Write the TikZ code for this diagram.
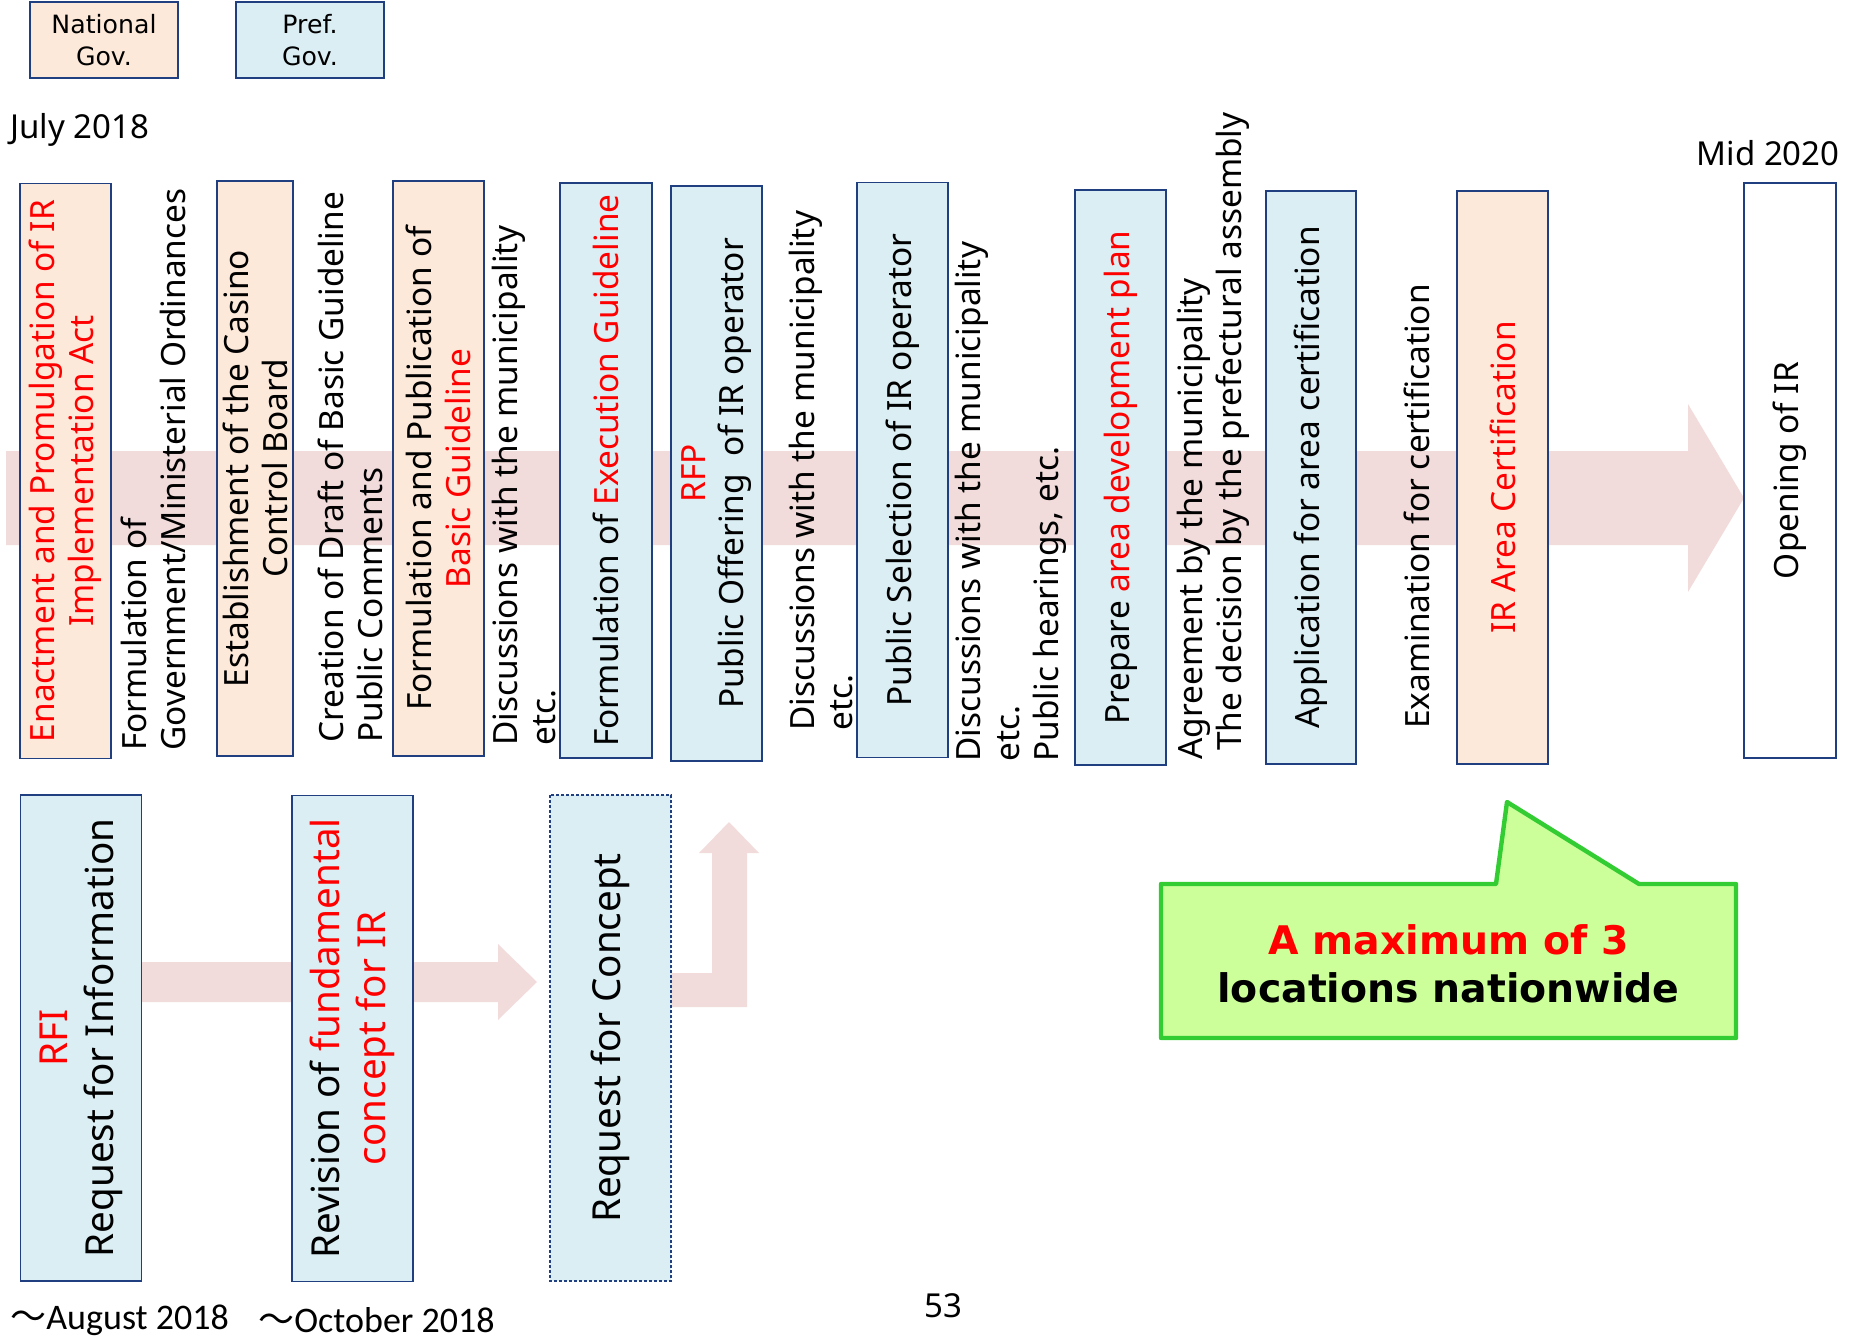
\documentclass[tikz,border=0pt]{standalone}
\usepackage{fontspec}
\setmainfont{Noto Sans}
\newfontfamily\nsans{Noto Sans}
\newfontfamily\carl{Carlito}
\newfontfamily\dvs{DejaVu Sans}
\newfontfamily\jpfont{Noto Sans CJK JP}
\definecolor{band}{HTML}{F2DCDB}
\definecolor{natfill}{HTML}{FDE9D9}
\definecolor{preffill}{HTML}{DAEEF3}
\definecolor{navy}{HTML}{203F80}
\definecolor{redtxt}{HTML}{FF0000}
\definecolor{callfill}{HTML}{CCFF99}
\definecolor{callline}{HTML}{33CC33}
\newcommand{\topfont}{\nsans\fontsize{16.7}{19.4}\selectfont}
\newcommand{\botfont}{\nsans\fontsize{19.3}{23}\selectfont}
\newcommand{\rd}[1]{\textcolor{redtxt}{#1}}
\begin{document}
\begin{tikzpicture}[x=0.5pt,y=0.5pt,
  vbox/.style={draw=navy, line width=0.9pt, rotate=90, inner sep=0pt, align=center, font=\topfont},
  natbox/.style={vbox, fill=natfill},
  prefbox/.style={vbox, fill=preffill},
  tall/.style={minimum width=287.5pt, minimum height=45.5pt},
  lowbox/.style={prefbox, font=\botfont, minimum width=243pt, minimum height=60.5pt},
  freetxt/.style={rotate=90, anchor=west, align=left, inner sep=0pt, font=\topfont},
  legend/.style={draw=navy, line width=0.9pt, inner sep=0pt, minimum width=74pt, minimum height=38pt, align=center, font=\dvs\fontsize{12.6}{16}\selectfont},
  datetxt/.style={inner sep=0pt, font=\nsans\fontsize{16.5}{19}\selectfont},
  bandfill/.style={fill=band, draw=none}
]
\useasboundingbox (0,0) rectangle (1849,-1343);

% legend
\node[legend, fill=natfill] (leg1) at (104,-40) {National\\Gov.};
\node[legend, fill=preffill] (leg2) at (310,-40) {Pref.\\Gov.};

% dates
\node[datetxt, anchor=west] (jul) at (10,-130) {July 2018};
\node[datetxt, anchor=east] (mid) at (1840,-153) {Mid 2020};

% main timeline arrow
\coordinate (tlstart) at (6,-498);
\coordinate (tltip) at (1744,-498);
\path[bandfill] (6,-451) -- (1688,-451) -- (1688,-404) -- (tltip) -- (1688,-592) -- (1688,-545) -- (6,-545) -- cycle;

% bottom arrows
\path[bandfill] (120,-962) -- (498,-962) -- (498,-944) -- (537,-982) -- (498,-1020) -- (498,-1002) -- (120,-1002) -- cycle;
\path[bandfill] (650,-973) -- (712,-973) -- (712,-853) -- (699,-853) -- (729,-822) -- (759,-853) -- (747,-853) -- (747,-1007) -- (650,-1007) -- cycle;

% top boxes
\node[natbox, tall, text=redtxt] (b1) at (65.5,-471) {Enactment and Promulgation of IR\\Implementation Act};
\node[natbox, tall, minimum height=38pt] (b2) at (255,-468.5) {Establishment of the Casino\\Control Board};
\node[natbox, tall] (b3) at (438.5,-468.5) {Formulation and Publication of\\\rd{Basic Guideline}};
\node[prefbox, tall, minimum height=46pt] (b4) at (606,-470.5) {Formulation of \rd{Execution Guideline}};
\node[prefbox, tall] (b5) at (716.5,-473.5) {\rd{RFP}\\Public Offering\ \ of IR operator};
\node[prefbox, tall] (b6) at (902.5,-470) {Public Selection of IR operator};
\node[prefbox, tall] (b7) at (1120.5,-477.5) {Prepare \rd{area development plan}};
\node[prefbox, tall, minimum height=45pt, minimum width=286.5pt] (b8) at (1311,-477.5) {Application for area certification};
\node[natbox, tall, minimum width=286.5pt, text=redtxt] (b9) at (1502.5,-477.5) {IR Area Certification};
\node[vbox, tall, minimum height=46pt, fill=white] (b10) at (1790,-470.5) {Opening of IR};

% free texts
\node[freetxt] (f1) at (153,-751) {Formulation of\\Government/Ministerial Ordinances};
\node[freetxt] (f2) at (350,-743) {Creation of Draft of Basic Guideline\\Public Comments};
\node[freetxt] (f3) at (524,-746) {Discussions with the municipality\\etc.};
\node[freetxt] (f4) at (821,-731) {Discussions with the municipality\\etc.};
\node[freetxt] (f5) at (1011,-762) {Discussions with the municipality\\etc.\\Public hearings, etc.};
\node[freetxt] (f6) at (1213,-760) {Agreement by the municipality\\\ The decision by the prefectural assembly};
\node[freetxt] (f7) at (1417,-729) {Examination for certification};

% bottom boxes
\node[lowbox] (r1) at (81,-1038) {\rd{RFI}\\Request for Information};
\node[lowbox] (r2) at (352.5,-1038.5) {Revision of \rd{fundamental}\\\rd{concept for IR}};
\node[lowbox, dash pattern=on 1.5pt off 1pt] (r3) at (610.5,-1038) {Request for Concept};

% bottom dates
\node[inner sep=0pt, anchor=west, font=\carl\fontsize{18}{20}\selectfont] (aug) at (10,-1320) {{\jpfont 〜}August 2018};
\node[inner sep=0pt, anchor=west, font=\carl\fontsize{18}{20}\selectfont] (oct) at (258,-1320) {{\jpfont 〜}October 2018};

% page number
\node[inner sep=0pt, font=\nsans\fontsize{16.5}{19}\selectfont] (pg) at (943.5,-1306) {53};

% callout
\coordinate (ctip) at (1507,-802);
\path[fill=callfill, draw=callline, line width=2.2pt, line join=round] (1161,-884) -- (1496,-884) -- (ctip) -- (1639,-884) -- (1736,-884) -- (1736,-1038) -- (1161,-1038) -- cycle;
\node[inner sep=0pt, align=center, font=\dvs\bfseries\fontsize{19.7}{24}\selectfont] (ctext) at (1448.5,-964) {\rd{A maximum of 3}\\locations nationwide};
\end{tikzpicture}
\end{document}
